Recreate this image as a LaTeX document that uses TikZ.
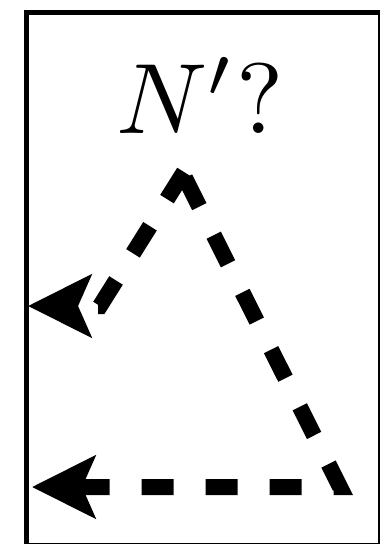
\documentclass[tikz,border=0pt]{standalone}
\usepackage{graphicx}
\usetikzlibrary{arrows.meta}
\begin{document}
\begin{tikzpicture}[x=1pt,y=-1pt,
  frame/.style={line width=5.5pt},
  dashpath/.style={line width=16pt, dash pattern=on 32pt off 32pt,
    -{Stealth[length=63pt,width=62pt,inset=13pt]}},
  label/.style={inner sep=0pt}]
\useasboundingbox (0,0) rectangle (380,544);
\clip (0,0) rectangle (380,544);
\draw[frame] (26.5,12.5) rectangle (381,546);
\node[label, anchor=base] (lbl) at (200,133) {\scalebox{10}{$N'?$}};
\coordinate (apexL) at (184,172);
\coordinate (apexR) at (185,178);
\coordinate (cornerL) at (100,306);
\coordinate (tipL) at (28,306);
\coordinate (cornerR) at (340,487);
\coordinate (tipR) at (32,487);
\draw[dashpath] (apexL) -- (cornerL) -- (tipL);
\draw[dashpath] (apexR) -- (cornerR) -- (tipR);
\end{tikzpicture}
\end{document}
